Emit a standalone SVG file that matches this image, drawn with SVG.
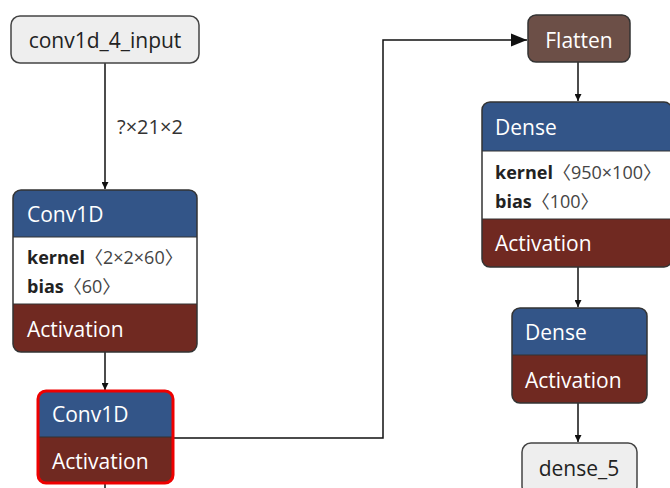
<svg xmlns="http://www.w3.org/2000/svg" width="670" height="488" viewBox="0 0 670 488">
<style>
text{font-family:"Open Sans","Noto Sans","Noto Sans CJK SC","DejaVu Sans",sans-serif}
.t{font-size:21px;fill:#ffffff}
.io{font-size:21px;fill:#222222}
.attr{font-size:18px;fill:#222222}
.br{fill:#444444}
.b{font-weight:bold}
.blue{fill:#335588}
.act{fill:#702921}
.frame{fill:none;stroke:#333333;stroke-width:1.5}
.edge{fill:none;stroke:#111111;stroke-width:1.5}
.lbl{font-size:20px;fill:#333333}
</style>
<defs>
<marker id="ah" viewBox="0 0 10 10" refX="10" refY="5" markerWidth="7" markerHeight="7" orient="auto" markerUnits="userSpaceOnUse">
<path d="M0,0 L10,5 L0,10 z" fill="#111111"/>
</marker>
<marker id="ahb" viewBox="0 0 10 10" refX="10" refY="5" markerWidth="16" markerHeight="16" orient="auto" markerUnits="userSpaceOnUse">
<path d="M0,1 L10,5 L0,9 z" fill="#111111"/>
</marker>
<clipPath id="c1"><rect x="13" y="190" width="184" height="162" rx="8"/></clipPath>
<clipPath id="c2"><rect x="38" y="391" width="135" height="92" rx="8"/></clipPath>
<clipPath id="c3"><rect x="482" y="102" width="190" height="165" rx="8"/></clipPath>
<clipPath id="c4"><rect x="512" y="308" width="135" height="95" rx="8"/></clipPath>
</defs>

<g id="connectors">
<path class="edge" d="M105,63 V189" marker-end="url(#ah)"/>
<text class="lbl" x="117" y="134">?×21×2</text>
<path class="edge" d="M105,352 V390" marker-end="url(#ah)"/>
<path class="edge" d="M105,483 V490"/>
<path class="edge" d="M173,438 H383 V40 H527" marker-end="url(#ahb)"/>
<path class="edge" d="M578,62 V101" marker-end="url(#ah)"/>
<path class="edge" d="M578,267 V307" marker-end="url(#ah)"/>
<path class="edge" d="M578,403 V442" marker-end="url(#ah)"/>
</g>

<g id="conv1d_4_input">
<rect x="11" y="16" width="188" height="47" rx="9" fill="#eeeeee" stroke="#444444" stroke-width="1.5"/>
<text class="io" x="105" y="48" text-anchor="middle">conv1d_4_input</text>
</g>

<g id="conv1d_4">
<g clip-path="url(#c1)">
<rect class="blue" x="13" y="190" width="184" height="47"/>
<rect x="13" y="237" width="184" height="67" fill="#ffffff"/>
<rect class="act" x="13" y="304" width="184" height="48"/>
</g>
<line x1="13" y1="237" x2="197" y2="237" stroke="#333" stroke-width="1"/>
<line x1="13" y1="304" x2="197" y2="304" stroke="#333" stroke-width="1"/>
<rect class="frame" x="13" y="190" width="184" height="162" rx="8"/>
<text class="t" x="27" y="222">Conv1D</text>
<text class="attr" x="27" y="264"><tspan class="b">kernel</tspan><tspan class="br">〈2×2×60〉</tspan></text>
<text class="attr" x="27" y="293"><tspan class="b">bias</tspan><tspan class="br">〈60〉</tspan></text>
<text class="t" x="27" y="337">Activation</text>
</g>

<g id="conv1d_5">
<g clip-path="url(#c2)">
<rect class="blue" x="38" y="391" width="135" height="46"/>
<rect class="act" x="38" y="437" width="135" height="46"/>
</g>
<line x1="38" y1="437" x2="173" y2="437" stroke="#333" stroke-width="1"/>
<rect x="38" y="391" width="135" height="92" rx="8" fill="none" stroke="#ee0000" stroke-width="3"/>
<text class="t" x="52" y="422">Conv1D</text>
<text class="t" x="52" y="469">Activation</text>
</g>

<g id="flatten">
<rect x="528" y="15" width="102" height="47" rx="8" fill="#6c4f47" stroke="#333333" stroke-width="1.5"/>
<text class="t" x="579" y="48" text-anchor="middle">Flatten</text>
</g>

<g id="dense_4">
<g clip-path="url(#c3)">
<rect class="blue" x="482" y="102" width="190" height="49"/>
<rect x="482" y="151" width="190" height="68" fill="#ffffff"/>
<rect class="act" x="482" y="219" width="190" height="48"/>
</g>
<line x1="482" y1="151" x2="672" y2="151" stroke="#333" stroke-width="1"/>
<line x1="482" y1="219" x2="672" y2="219" stroke="#333" stroke-width="1"/>
<rect class="frame" x="482" y="102" width="190" height="165" rx="8"/>
<text class="t" x="495" y="135">Dense</text>
<text class="attr" x="495" y="179"><tspan class="b">kernel</tspan><tspan class="br">〈950×100〉</tspan></text>
<text class="attr" x="495" y="208"><tspan class="b">bias</tspan><tspan class="br">〈100〉</tspan></text>
<text class="t" x="495" y="251">Activation</text>
</g>

<g id="dense_5_layer">
<g clip-path="url(#c4)">
<rect class="blue" x="512" y="308" width="135" height="47"/>
<rect class="act" x="512" y="355" width="135" height="48"/>
</g>
<line x1="512" y1="355" x2="647" y2="355" stroke="#333" stroke-width="1"/>
<rect class="frame" x="512" y="308" width="135" height="95" rx="8"/>
<text class="t" x="525" y="340">Dense</text>
<text class="t" x="525" y="388">Activation</text>
</g>

<g id="dense_5">
<rect x="522" y="443" width="115" height="52" rx="9" fill="#eeeeee" stroke="#444444" stroke-width="1.5"/>
<text class="io" x="579" y="476" text-anchor="middle">dense_5</text>
</g>
</svg>
